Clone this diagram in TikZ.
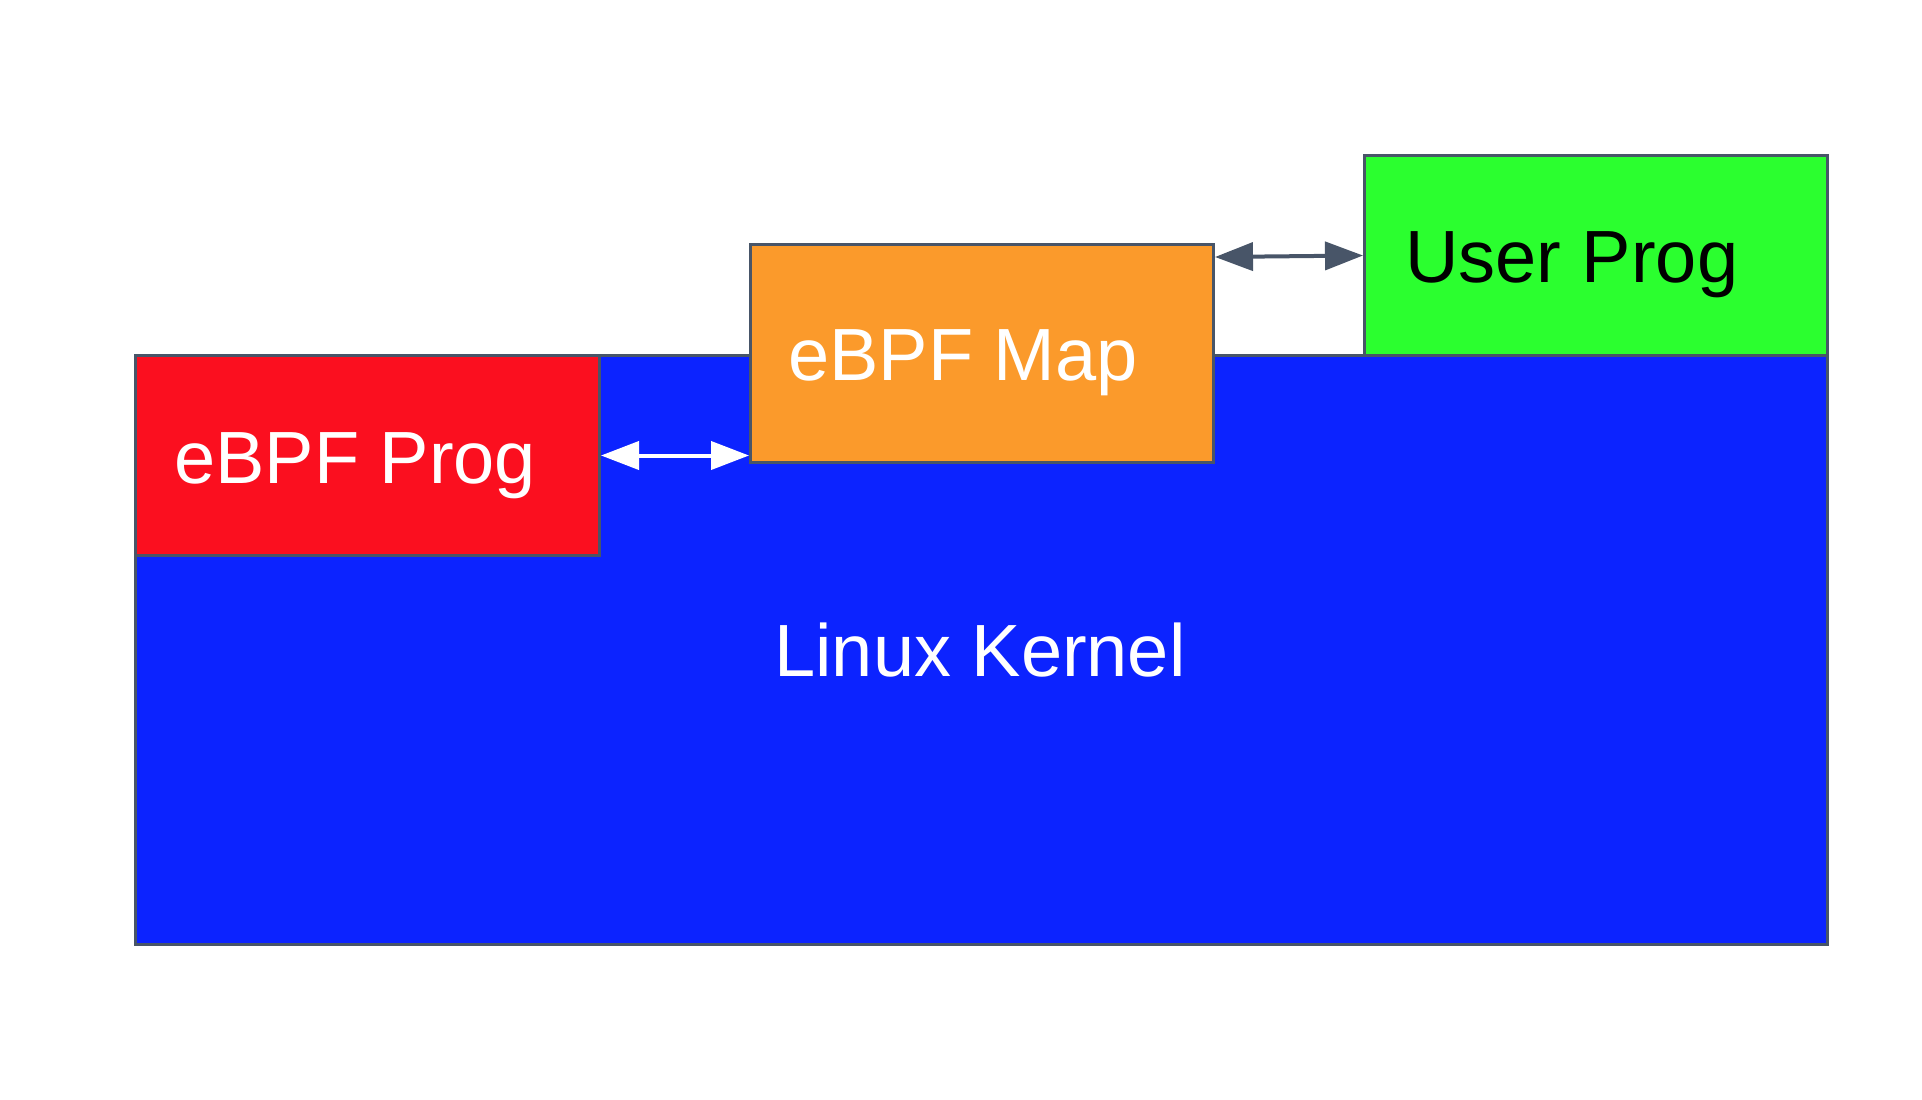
\documentclass[tikz,border=0pt]{standalone}
\usepackage{fontspec}
\setmainfont{Liberation Sans}
\usetikzlibrary{arrows.meta}
\definecolor{edgec}{RGB}{72,85,104}
\definecolor{kblue}{RGB}{12,35,255}
\definecolor{pred}{RGB}{251,15,31}
\definecolor{morange}{RGB}{251,154,43}
\definecolor{ugreen}{RGB}{43,255,47}
\tikzset{
  box/.style={draw=edgec, line width=3pt, rectangle, inner sep=0pt, anchor=north west},
  lbl/.style={font=\fontsize{74}{89}\selectfont, inner sep=0pt},
  link/.style={line width=4pt, {Triangle[length=38pt,width=28pt]}-{Triangle[length=38pt,width=28pt]}}
}
\begin{document}
\begin{tikzpicture}[x=1pt,y=-1pt]
\useasboundingbox (0,0) rectangle (1922,1100);
\node[box, fill=kblue, minimum width=1692pt, minimum height=589pt] (kernel) at (134,354) {};
\node[box, fill=pred, minimum width=464pt, minimum height=200pt] (prog) at (134,354) {};
\node[box, fill=morange, minimum width=463pt, minimum height=218pt] (map) at (749,243) {};
\node[box, fill=ugreen, minimum width=463pt, minimum height=200pt] (user) at (1363,154) {};
\node[lbl, text=white, anchor=base west] (progt) at (174,483) {eBPF Prog};
\node[lbl, text=white, anchor=base west] (mapt) at (788,380) {eBPF Map};
\node[lbl, text=black, anchor=base west] (usert) at (1405,282) {User Prog};
\node[lbl, text=white, anchor=base] (kernelt) at (980,676) {Linux Kernel};
\draw[link, white] (prog.east) -- (prog.east -| map.west);
\draw[link, edgec] ([yshift=-14pt]map.north east) -- (user.west);
\end{tikzpicture}
\end{document}
